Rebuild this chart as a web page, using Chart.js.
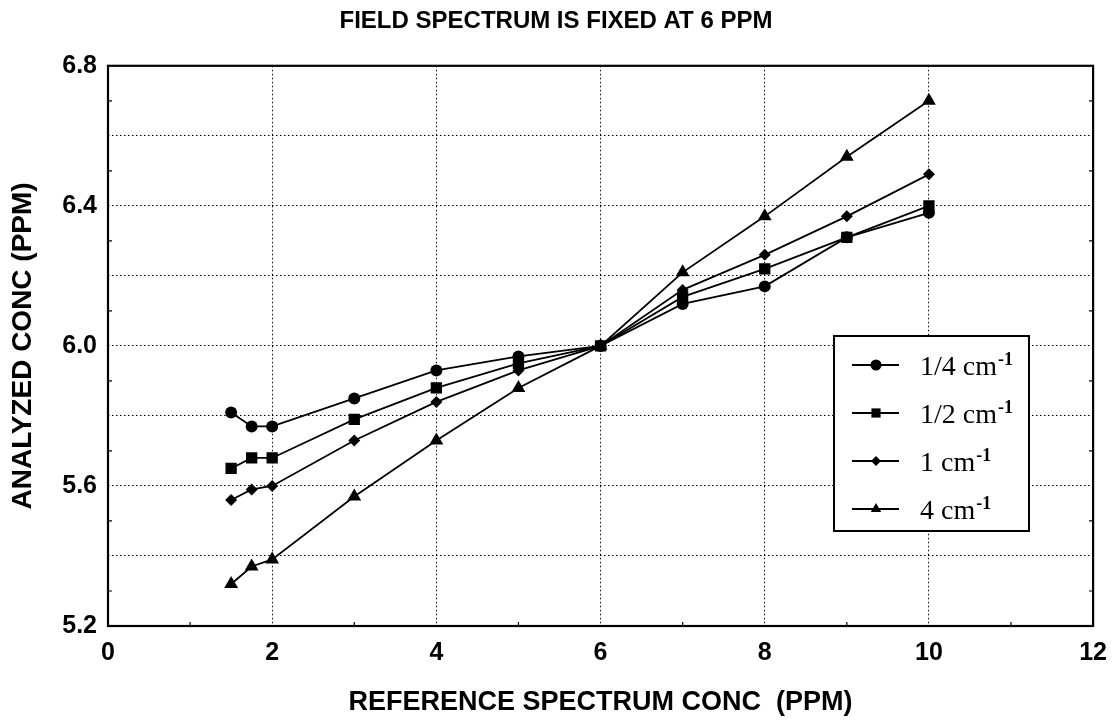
<!DOCTYPE html>
<html>
<head>
<meta charset="utf-8">
<script src="https://cdn.jsdelivr.net/npm/chart.js@4.4.1/dist/chart.umd.min.js"></script>
<style>
  html, body { margin: 0; padding: 0; background: #fff; }
  #wrap { width: 1119px; height: 722px; }
</style>
</head>
<body>
<div id="wrap"><canvas id="myChart" width="1119" height="722"></canvas></div>
<script>
// reference spectrum concentration (ppm)
const refConc = [1.5, 1.75, 2, 3, 4, 5, 6, 7, 8, 9, 10];
const seriesLabels = ['1/4 cm⁻¹', '1/2 cm⁻¹', '1 cm⁻¹', '4 cm⁻¹'];
const res025 = [5.81, 5.77, 5.77, 5.85, 5.93, 5.97, 6.00, 6.12, 6.17, 6.31, 6.38];
const res05 = [5.65, 5.68, 5.68, 5.79, 5.88, 5.95, 6.00, 6.14, 6.22, 6.31, 6.40];
const res1 = [5.56, 5.59, 5.60, 5.73, 5.84, 5.93, 6.00, 6.16, 6.26, 6.37, 6.49];
const res4 = [5.32, 5.37, 5.39, 5.57, 5.73, 5.88, 6.00, 6.21, 6.37, 6.54, 6.70];
const xTicks = [0, 2, 4, 6, 8, 10, 12];
const yTickLabels = ['5.2', '5.6', '6.0', '6.4', '6.8'];

const markers = ['circle', 'rect', 'rectRot', 'triangle'];
const markerSize = [6, 8, 6, 8];
const legendSize = [5.5, 6.5, 5, 6];

const sansBold = { family: 'Liberation Sans, Arial, sans-serif', weight: 'bold' };

function pts(ys) {
  return refConc.map((x, i) => ({ x: x, y: ys[i] }));
}

const datasets = [res025, res05, res1, res4].map((ys, i) => ({
  label: seriesLabels[i],
  data: pts(ys),
  borderColor: '#000',
  borderWidth: 1.8,
  pointStyle: markers[i],
  pointRadius: markerSize[i],
  pointBackgroundColor: '#000',
  pointBorderColor: '#000',
  pointBorderWidth: 0,
  tension: 0
}));

// frame around plot + small inward ticks
const framePlugin = {
  id: 'frame',
  afterDatasetsDraw(chart) {
    const { ctx, chartArea: a, scales } = chart;
    ctx.save();
    ctx.strokeStyle = '#000';
    ctx.lineWidth = 2.2;
    ctx.strokeRect(a.left, a.top, a.right - a.left, a.bottom - a.top);
    ctx.lineWidth = 1.2;
    ctx.beginPath();
    for (let v = 5.3; v < 6.8; v += 0.2) {
      const y = scales.y.getPixelForValue(v);
      ctx.moveTo(a.left, y); ctx.lineTo(a.left + 4, y);
      ctx.moveTo(a.right, y); ctx.lineTo(a.right - 4, y);
    }
    for (let v = 1; v < 12; v += 2) {
      const x = scales.x.getPixelForValue(v);
      ctx.moveTo(x, a.bottom); ctx.lineTo(x, a.bottom - 4);
    }
    ctx.stroke();
    ctx.restore();
  }
};

// boxed legend inside the plot, line + marker, superscript units
const boxLegend = {
  id: 'boxLegend',
  afterDraw(chart) {
    const ctx = chart.ctx;
    const box = { left: 834, top: 336, right: 1029, bottom: 531 };
    ctx.save();
    ctx.fillStyle = '#fff';
    ctx.fillRect(box.left, box.top, box.right - box.left, box.bottom - box.top);
    ctx.strokeStyle = '#000';
    ctx.lineWidth = 2;
    ctx.strokeRect(box.left, box.top, box.right - box.left, box.bottom - box.top);
    chart.data.datasets.forEach((ds, i) => {
      const y = 365 + i * 48;
      ctx.strokeStyle = '#000';
      ctx.lineWidth = 1.8;
      ctx.beginPath();
      ctx.moveTo(852, y); ctx.lineTo(899, y);
      ctx.stroke();
      ctx.fillStyle = '#000';
      Chart.helpers.drawPoint(ctx, { pointStyle: ds.pointStyle, radius: legendSize[i], borderWidth: 0 }, 876, y);
      const parts = ds.label.split('⁻¹');
      ctx.textBaseline = 'alphabetic';
      ctx.textAlign = 'left';
      ctx.font = '28px "Liberation Serif", "Times New Roman", serif';
      ctx.fillText(parts[0], 920, y + 10);
      const w = ctx.measureText(parts[0]).width;
      ctx.font = 'bold 18px "Liberation Serif", "Times New Roman", serif';
      ctx.fillText('-1', 920 + w + 1, y);
    });
    ctx.restore();
  }
};

new Chart(document.getElementById('myChart').getContext('2d'), {
  type: 'line',
  data: { datasets: datasets },
  options: {
    responsive: false,
    animation: false,
    layout: { padding: { left: 0, right: 7, top: 0, bottom: 0 } },
    plugins: {
      legend: { display: false },
      tooltip: { enabled: false },
      title: {
        display: true,
        text: 'FIELD SPECTRUM IS FIXED AT 6 PPM',
        color: '#000',
        font: { ...sansBold, size: 24 },
        padding: { top: 7, bottom: 30 }
      }
    },
    scales: {
      x: {
        type: 'linear',
        min: 0, max: 12,
        afterBuildTicks(scale) { scale.ticks = xTicks.map(v => ({ value: v })); },
        afterFit(scale) { scale.height = 96; },
        ticks: { color: '#000', font: { ...sansBold, size: 25 }, padding: 12, maxRotation: 0 },
        grid: { color: '#000', lineWidth: 1, drawTicks: false },
        border: { display: false, dash: [1.5, 2.5] },
        title: {
          display: true,
          text: 'REFERENCE SPECTRUM CONC  (PPM)',
          color: '#000',
          font: { ...sansBold, size: 27 },
          padding: { top: 0, bottom: 3 }
        }
      },
      y: {
        min: 5.2, max: 6.8,
        ticks: {
          stepSize: 0.2,
          color: '#000',
          font: { ...sansBold, size: 25 },
          padding: 11,
          callback(v) {
            const s = v.toFixed(1);
            return yTickLabels.includes(s) ? s : '';
          }
        },
        afterFit(scale) { scale.width = 108; },
        grid: { color: '#000', lineWidth: 1, drawTicks: false },
        border: { display: false, dash: [1.5, 2.5] },
        title: {
          display: true,
          text: 'ANALYZED CONC (PPM)',
          color: '#000',
          font: { ...sansBold, size: 28 },
          padding: { top: 6, bottom: 0 }
        }
      }
    }
  },
  plugins: [framePlugin, boxLegend]
});
</script>
</body>
</html>
